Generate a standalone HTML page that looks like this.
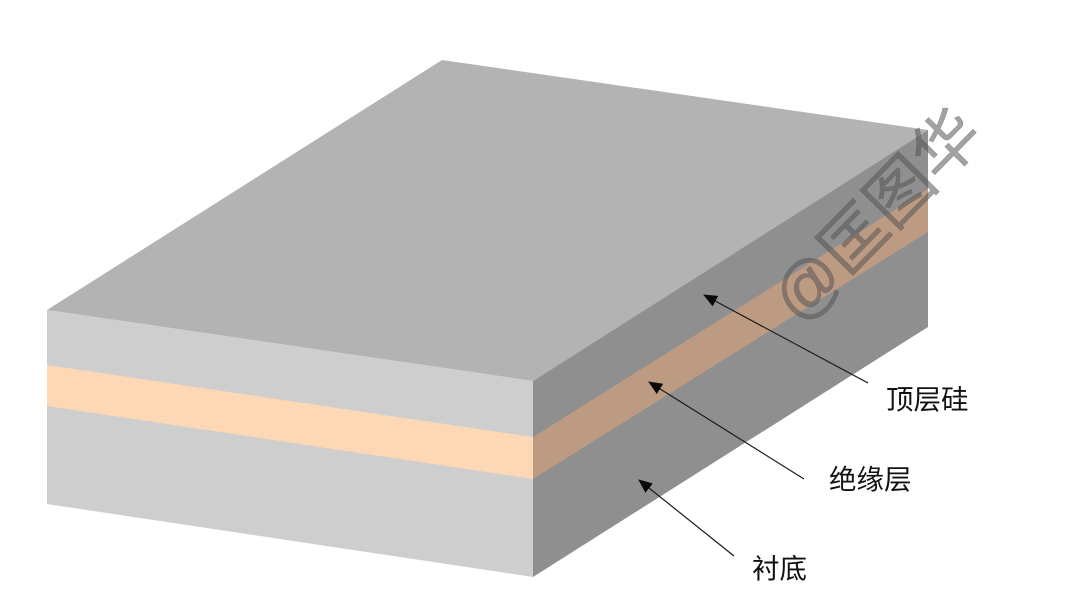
<!DOCTYPE html>
<html lang="zh">
<head>
<meta charset="utf-8">
<style>
html,body{margin:0;padding:0;background:#fff;width:1080px;height:608px;overflow:hidden}
svg{display:block}
text{font-family:"Liberation Sans","Noto Sans CJK SC",sans-serif}
</style>
</head>
<body>
<svg width="1080" height="608" viewBox="0 0 1080 608" xmlns="http://www.w3.org/2000/svg">
<defs>
<pattern id="dots" width="5" height="5" patternUnits="userSpaceOnUse">
<rect width="5" height="5" fill="#fdd9b8"/>
<circle cx="1" cy="1" r=".6" fill="#f7c99c"/>
<circle cx="3.5" cy="3" r=".6" fill="#f9cfa6"/>
</pattern>
<marker id="ah" markerUnits="userSpaceOnUse" markerWidth="14" markerHeight="12" refX="13" refY="6" orient="auto">
<path d="M0 0 L14 6 L0 12 Z" fill="#0a0a0a"/>
</marker>
</defs>
<rect width="1080" height="608" fill="#fff"/>
<polygon points="442,60 928,130 533,381 47,310" fill="#b3b3b3"/>
<polygon points="47,310 533,381 533,577 47,504" fill="#cecece"/>
<polygon points="47,365 533,437 533,479 47,406" fill="url(#dots)"/>
<polygon points="533,381 928,130 928,327 533,577" fill="#8f8f8f"/>
<polygon points="533,437 928,189 928,232 533,479" fill="#bd9a82"/>
<g stroke="#1a1a1a" stroke-width="1.2" fill="none" marker-end="url(#ah)">
<line x1="868" y1="383" x2="704" y2="295"/>
<line x1="804" y1="479" x2="649" y2="382"/>
<line x1="734" y1="556" x2="639" y2="480"/>
</g>
<g font-size="27.5" fill="#111">
<text x="886" y="409">顶层硅</text>
<text x="829" y="489">绝缘层</text>
<text x="752" y="578">衬底</text>
</g>
<text transform="translate(800,326) rotate(-45.5)" font-size="66" fill="#555" fill-opacity=".55" stroke="#555" stroke-opacity=".4" stroke-width=".6">@匡图华</text>
</svg>
</body>
</html>
